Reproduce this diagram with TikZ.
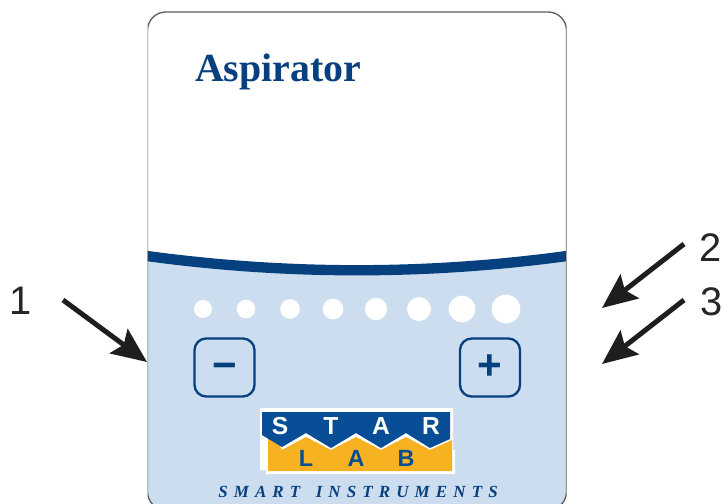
\documentclass[tikz,border=0pt]{standalone}
\usepackage{fontspec}
\setmainfont{Liberation Serif}
\setsansfont{Liberation Sans}
\newfontfamily\smartfont[LetterSpace=36]{Liberation Serif}
\usetikzlibrary{arrows.meta}
\definecolor{panelblue}{RGB}{203,221,239}
\definecolor{deepblue}{RGB}{6,64,126}
\definecolor{logoblue}{RGB}{8,78,150}
\definecolor{logoyellow}{RGB}{246,178,33}
\definecolor{rimgray}{RGB}{95,95,95}
\definecolor{arrowblack}{RGB}{30,30,30}
\begin{document}
\begin{tikzpicture}[x=0.03cm,y=-0.03cm,
    led/.style={circle,fill=white,inner sep=0pt},
    keybox/.style={draw=deepblue,line width=0.7mm,rounded corners=0.35cm,minimum width=1.8cm,
                   minimum height=1.74cm,inner sep=0pt,text=deepblue,font=\sffamily\bfseries\fontsize{36}{36}\selectfont},
    callout/.style={font=\sffamily\fontsize{34}{36}\selectfont,text=black!85},
    pointer/.style={draw=arrowblack,line width=1.5mm,-{Stealth[length=1.05cm,width=0.9cm,inset=0.18cm]},shorten >=0pt},
    starletter/.style={text=white,font=\sffamily\bfseries\fontsize{21}{21}\selectfont,inner sep=0pt},
    lableter/.style={text=logoblue,font=\sffamily\bfseries\fontsize{20}{20}\selectfont,inner sep=0pt}]
    \useasboundingbox (0,0) rectangle (723,504);

    % panel
    \begin{scope}
      \clip (147.5,-20) rectangle (566.5,504);
      \begin{scope}
        \clip[rounded corners=0.55cm] (147.5,12) rectangle (566.5,510);
        \fill[panelblue] (147,256) .. controls (287,275) and (427,275) .. (567,256) -- (567,515) -- (147,515) -- cycle;
        \draw[deepblue,line width=3.1mm] (147,256) .. controls (287,275) and (427,275) .. (567,256);
      \end{scope}
      \draw[rimgray,line width=0.4mm,rounded corners=0.55cm] (147.5,12) rectangle (566.5,510);
    \end{scope}

    \node[text=deepblue,font=\bfseries\fontsize{34}{36}\selectfont,inner sep=0pt] (title) at (278,72) {Aspirator};

    \node[led,minimum size=0.54cm] (ledA) at (203,309) {};
    \node[led,minimum size=0.56cm] (ledB) at (246,309) {};
    \node[led,minimum size=0.59cm] (ledC) at (290,309) {};
    \node[led,minimum size=0.62cm] (ledD) at (333,309) {};
    \node[led,minimum size=0.67cm] (ledE) at (376,309) {};
    \node[led,minimum size=0.72cm] (ledF) at (419,309) {};
    \node[led,minimum size=0.80cm] (ledG) at (462,309) {};
    \node[led,minimum size=0.86cm] (ledH) at (506,309) {};

    \node[keybox] (minus) at (224.5,367.5) {\vphantom{+}−};
    \node[keybox] (plus) at (490,367.5) {+};

    % logo
    \fill[white] (260,408) rectangle (453,470) (266,450) rectangle (455,474);
    \fill[logoyellow] (268,422) -- (268,471) -- (452,471) -- (452,440) -- (430,450) -- (406,437) -- (381,450) -- (356,437) -- (331,450) -- (306,437) -- (282,450) -- cycle;
    \fill[logoblue] (262,412) -- (450,412) -- (450,439) -- (430,448) -- (406,433) -- (381,448) -- (356,433) -- (331,448) -- (306,433) -- (282,447) -- (262,435) -- cycle;
    \node[starletter] (s) at (280,426) {S};
    \node[starletter] (t) at (331,426) {T};
    \node[starletter] (a) at (381,426) {A};
    \node[starletter] (r) at (431,426) {R};
    \node[lableter] (l) at (306,458) {L};
    \node[lableter] (b) at (356,458) {A};
    \node[lableter] (c) at (406,458) {B};
    \node[text=deepblue,inner sep=0pt,font=\smartfont\bfseries\itshape\fontsize{14.5}{15}\selectfont] (smart) at (358,492) {SMART\hspace{0.3em} INSTRUMENTS};

    % callouts
    \node[callout] (one) at (21,301) {1};
    \node[callout] (two) at (711,248) {2};
    \node[callout] (three) at (712,302) {3};
    \coordinate (oneend) at (147,362);
    \coordinate (twoend) at (602,308);
    \coordinate (threeend) at (602,364);
    \coordinate (onestart) at (63,300);
    \coordinate (twostart) at (684,244);
    \coordinate (threestart) at (684,300);
    \draw[pointer] (onestart) -- (oneend);
    \draw[pointer] (twostart) -- (twoend);
    \draw[pointer] (threestart) -- (threeend);
  \end{tikzpicture}
\end{document}
